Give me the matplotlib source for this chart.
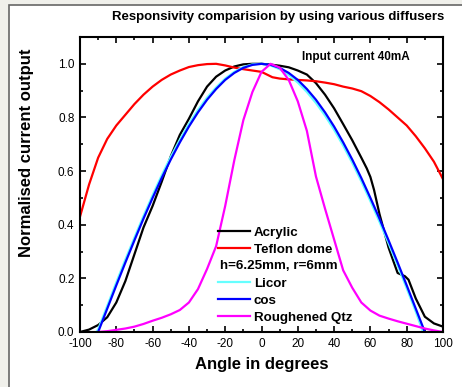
import matplotlib.pyplot as plt
from matplotlib.lines import Line2D
from matplotlib.patches import Rectangle
from matplotlib.ticker import MultipleLocator

plt.rcParams['font.family'] = ['Liberation Sans', 'DejaVu Sans']
plt.rcParams['axes.unicode_minus'] = False

# Acrylic
acr_ang = [-100, -95, -90, -85, -80, -75, -70, -65, -60, -55, -50, -45, -40, -35, -30, -25, -20, -15, -10, -5,
           0, 5, 10, 15, 20, 25, 30, 35, 40, 45, 50, 55, 58, 60, 62, 65, 70, 75, 79, 81, 85, 90, 95, 100]
acr_val = [0.0, 0.009, 0.026, 0.055, 0.11, 0.19, 0.29, 0.39, 0.47, 0.56, 0.655, 0.735, 0.795, 0.86, 0.915,
           0.952, 0.975, 0.99, 0.998, 1.0,
           1.0, 0.997, 0.993, 0.987, 0.975, 0.96, 0.928, 0.885, 0.834, 0.775, 0.715, 0.65, 0.61, 0.578, 0.53,
           0.44, 0.315, 0.22, 0.208, 0.195, 0.125, 0.057, 0.032, 0.02]

# Teflon dome
tef_ang = [-100, -95, -90, -85, -80, -75, -70, -65, -60, -55, -50, -45, -40, -35, -30, -25, -20, -15, -10, -5,
           0, 3, 6, 10, 15, 20, 25, 30, 35, 40, 45, 50, 55, 60, 65, 70, 75, 80, 85, 90, 95, 100]
tef_val = [0.43, 0.55, 0.65, 0.72, 0.77, 0.81, 0.85, 0.885, 0.915, 0.94, 0.96, 0.975, 0.988, 0.995, 0.999,
           1.0, 0.994, 0.986, 0.98, 0.975,
           0.97, 0.96, 0.95, 0.945, 0.942, 0.94, 0.938, 0.935, 0.93, 0.924, 0.915, 0.908, 0.898, 0.88, 0.857,
           0.83, 0.80, 0.77, 0.73, 0.685, 0.635, 0.57]

# Licor
lic_ang = [-91, -90, -85, -80, -75, -70, -65, -60, -55, -50, -45, -40, -35, -30, -25, -20, -15, -10, -5,
           0, 5, 10, 15, 20, 25, 30, 35, 40, 45, 50, 55, 60, 65, 70, 75, 80, 85, 89]
lic_val = [0.0, 0.01, 0.097, 0.185, 0.27, 0.352, 0.433, 0.51, 0.584, 0.653, 0.717, 0.776, 0.828, 0.874,
           0.912, 0.945, 0.97, 0.988, 0.998,
           1.0, 0.994, 0.98, 0.958, 0.93, 0.895, 0.854, 0.807, 0.754, 0.695, 0.631, 0.562, 0.488, 0.411,
           0.331, 0.248, 0.163, 0.076, 0.0]

# cos
cos_ang = [-90, -85, -80, -75, -70, -65, -60, -55, -50, -45, -40, -35, -30, -25, -20, -15, -10, -5,
           0, 5, 10, 15, 20, 25, 30, 35, 40, 45, 50, 55, 60, 65, 70, 75, 80, 85, 90]
cos_val = [0.0, 0.087, 0.174, 0.259, 0.342, 0.423, 0.5, 0.574, 0.643, 0.707, 0.766, 0.819, 0.866, 0.906,
           0.94, 0.966, 0.985, 0.996,
           1.0, 0.996, 0.985, 0.966, 0.94, 0.906, 0.866, 0.819, 0.766, 0.707, 0.643, 0.574, 0.5, 0.423,
           0.342, 0.259, 0.174, 0.087, 0.0]

# Roughened Qtz
rq_ang = [-90, -85, -80, -75, -70, -65, -60, -55, -50, -45, -40, -35, -30, -25, -20, -15, -10, -5,
          0, 5, 10, 15, 20, 25, 30, 35, 40, 45, 50, 55, 60, 65, 70, 75, 80, 85, 90, 95, 100]
rq_val = [0.0, 0.003, 0.008, 0.013, 0.02, 0.03, 0.042, 0.053, 0.066, 0.082, 0.11, 0.16, 0.235, 0.32,
          0.47, 0.64, 0.79, 0.895,
          0.97, 1.0, 0.986, 0.94, 0.86, 0.75, 0.58, 0.46, 0.345, 0.23, 0.165, 0.11, 0.08, 0.061, 0.05,
          0.04, 0.031, 0.022, 0.013, 0.006, 0.0]

fig = plt.figure(figsize=(4.62, 3.87), dpi=100, facecolor='#f0f0eb')
# panel de fondo blanco
fig.patches.append(Rectangle((9 / 462, -0.1), 1.0, 1.1 - 5 / 387, transform=fig.transFigure,
                             facecolor='white', edgecolor='#666666', linewidth=1.2, zorder=-1))

ax = fig.add_axes([80 / 462, 1 - 332 / 387, 363 / 462, 295 / 387])
lw = 1.6
ax.plot(acr_ang, acr_val, color='black', lw=lw, label='Acrylic')
ax.plot(tef_ang, tef_val, color='#ff0000', lw=lw, label='Teflon dome')
ax.plot(lic_ang, lic_val, color='#66ffff', lw=lw, label='Licor')
ax.plot(cos_ang, cos_val, color='#0000ff', lw=lw, label='cos')
ax.plot(rq_ang, rq_val, color='#ff00ff', lw=lw, label='Roughened Qtz')

ax.set_xlim(-100, 100)
ax.set_ylim(0, 1.1)
ax.xaxis.set_major_locator(MultipleLocator(20))
ax.xaxis.set_minor_locator(MultipleLocator(10))
ax.yaxis.set_major_locator(MultipleLocator(0.2))
ax.yaxis.set_minor_locator(MultipleLocator(0.1))
ax.yaxis.set_major_formatter(plt.FormatStrFormatter('%.1f'))
ax.tick_params(which='both', direction='in', top=True, right=True, width=1.2, labelsize=8.5)
ax.tick_params(which='major', length=4, pad=4)
ax.tick_params(which='minor', length=2.5)
for s in ax.spines.values():
    s.set_linewidth(1.5)

ax.set_xlabel('Angle in degrees', fontsize=12, fontweight='bold', labelpad=5)
fig.text(27 / 462, 1 - 153 / 387, 'Normalised current output', rotation=90, fontsize=12,
         fontweight='bold', ha='center', va='center')
fig.text(278 / 462, 1 - 17 / 387, 'Responsivity comparision by using various diffusers',
         fontsize=9.5, fontweight='bold', ha='center', va='center')
ax.text(0.759, 0.932, 'Input current 40mA', transform=ax.transAxes, fontsize=8.5,
        fontweight='bold', ha='center', va='center')

# leyenda con fila de texto extra
h = ax.get_lines()
blank = Line2D([], [], color='none')
handles = [h[0], h[1], blank, h[2], h[3], h[4]]
labels = ['Acrylic', 'Teflon dome', ' ', 'Licor', 'cos', 'Roughened Qtz']
ax.legend(handles, labels, loc='upper left', bbox_to_anchor=(0.38, 0.358), frameon=False,
          borderaxespad=0, borderpad=0, handlelength=2.4, handletextpad=0.3, labelspacing=0.35,
          prop={'weight': 'bold', 'size': 9.6})
ax.text(0.385, 0.224, 'h=6.25mm, r=6mm', transform=ax.transAxes, fontsize=9.6,
        fontweight='bold', ha='left', va='center')

plt.savefig('out.png', dpi=100, facecolor=fig.get_facecolor())
